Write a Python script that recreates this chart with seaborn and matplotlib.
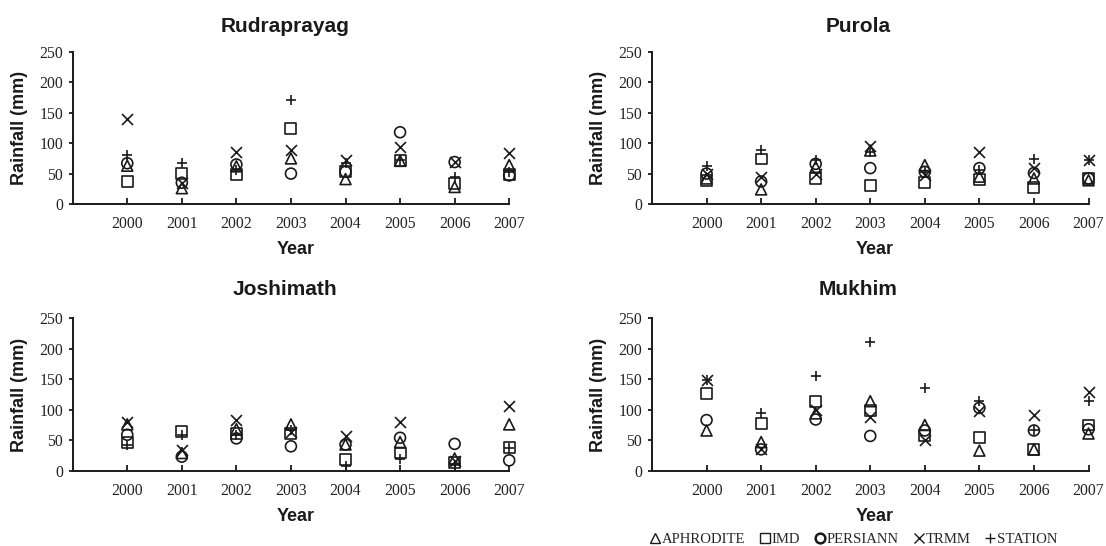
import numpy as np
import pandas as pd
import matplotlib
matplotlib.use("Agg")
import matplotlib.pyplot as plt
from matplotlib.lines import Line2D
import seaborn as sns

years = [2000, 2001, 2002, 2003, 2004, 2005, 2006, 2007]
products = ["APHRODITE", "IMD", "PERSIANN", "TRMM", "STATION"]
stations = ["Rudraprayag", "Purola", "Joshimath", "Mukhim"]

# Rudraprayag
rud_aphrodite = [63, 26, 62, 75, 41, 71, 28, 64]
rud_imd = [37, 50, 48, 124, 53, 71, 34, 49]
rud_persiann = [67, 35, 65, 50, 53, 118, 69, 47]
rud_trmm = [140, 35, 86, 89, 72, 94, 69, 84]
rud_station = [80, 68, 56, 171, 68, 73, 45, 53]

# Purola
pur_aphrodite = [42, 24, 61, 88, 64, 45, 42, 39]
pur_imd = [39, 74, 42, 31, 35, 40, 27, 42]
pur_persiann = [50, 37, 66, 59, 53, 59, 51, 42]
pur_trmm = [50, 45, 50, 96, 48, 86, 59, 72]
pur_station = [63, 89, 73, 86, 52, 56, 74, 72]

# Joshimath
jos_aphrodite = [76, 29, 68, 76, 43, 47, 20, 76]
jos_imd = [47, 65, 61, 61, 19, 29, 13, 38]
jos_persiann = [59, 23, 53, 40, 43, 54, 44, 17]
jos_trmm = [80, 34, 83, 64, 57, 80, 16, 106]
jos_station = [42, 58, 58, 66, 7, 20, 9, 38]

# Mukhim
muk_aphrodite = [66, 47, 94, 114, 75, 33, 35, 61]
muk_imd = [126, 77, 114, 99, 57, 54, 35, 75]
muk_persiann = [83, 35, 84, 57, 66, 103, 66, 68]
muk_trmm = [148, 36, 99, 88, 50, 98, 91, 129]
muk_station = [148, 94, 155, 211, 135, 115, 66, 115]

station_data = {
    "Rudraprayag": [rud_aphrodite, rud_imd, rud_persiann, rud_trmm, rud_station],
    "Purola": [pur_aphrodite, pur_imd, pur_persiann, pur_trmm, pur_station],
    "Joshimath": [jos_aphrodite, jos_imd, jos_persiann, jos_trmm, jos_station],
    "Mukhim": [muk_aphrodite, muk_imd, muk_persiann, muk_trmm, muk_station],
}

rows = []
for st in stations:
    for prod, vals in zip(products, station_data[st]):
        for y, v in zip(years, vals):
            rows.append({"station": st, "product": prod, "Year": y, "Rainfall": v})
df = pd.DataFrame(rows)

sns.set_style("ticks")
serif = "Liberation Serif"
sans = "Liberation Sans"
plt.rcParams["font.family"] = [sans, "DejaVu Sans"]

markers = {"APHRODITE": "^", "IMD": "s", "PERSIANN": "o", "TRMM": "x", "STATION": "+"}
filled = {"APHRODITE": True, "IMD": True, "PERSIANN": True, "TRMM": False, "STATION": False}

fig = plt.figure(figsize=(11.06, 5.46), dpi=100)
W, H = 1106, 546
ax_w = 436.5 / W
positions = {
    "Rudraprayag": (72.7 / W, 1 - 204 / H, ax_w, 152 / H),
    "Purola": (652 / W, 1 - 204 / H, ax_w, 152 / H),
    "Joshimath": (72.7 / W, 1 - 470.7 / H, ax_w, 152.4 / H),
    "Mukhim": (652 / W, 1 - 470.7 / H, ax_w, 152.4 / H),
}
title_x = {"Rudraprayag": 0.486, "Purola": 0.472, "Joshimath": 0.486, "Mukhim": 0.472}
title_pad = {"Rudraprayag": 14.5, "Purola": 14.5, "Joshimath": 16.5, "Mukhim": 16.5}

ink = "#1a1a1a"
for st in stations:
    ax = fig.add_axes(positions[st])
    sub = df[df["station"] == st]
    for prod in products:
        d = sub[sub["product"] == prod]
        if filled[prod]:
            sns.scatterplot(data=d, x="Year", y="Rainfall", marker=markers[prod], s=62,
                            facecolor="none", edgecolor=ink, linewidth=1.2, ax=ax,
                            zorder=3, clip_on=False)
        else:
            sns.scatterplot(data=d, x="Year", y="Rainfall", marker=markers[prod], s=62,
                            color=ink, linewidth=1.2, ax=ax, zorder=3, clip_on=False)
    ax.set_xlim(1999, 2007)
    ax.set_ylim(0, 250)
    ax.set_xticks(years)
    ax.set_xticklabels([str(y) for y in years], fontfamily=serif, fontsize=11.3, color="#222222")
    ax.set_yticks([0, 50, 100, 150, 200, 250])
    ax.set_yticklabels(["0", "50", "100", "150", "200", "250"], fontfamily=serif,
                       fontsize=11.3, color="#222222")
    ax.tick_params(axis="x", direction="in", length=4, width=1.3, pad=9, color=ink)
    ax.tick_params(axis="y", direction="out", length=3, width=1.3, pad=4, color=ink)
    for side in ["top", "right"]:
        ax.spines[side].set_visible(False)
    for side in ["left", "bottom"]:
        ax.spines[side].set_linewidth(1.4)
        ax.spines[side].set_color(ink)
    ax.set_xlabel("Year", fontsize=13, fontweight="bold", color=ink, labelpad=6, x=0.51)
    ax.set_ylabel("Rainfall (mm)", fontsize=13, fontweight="bold", color=ink, labelpad=8)
    ax.set_title(st, fontsize=15, fontweight="bold", color=ink, pad=title_pad[st], x=title_x[st])
    if ax.get_legend() is not None:
        ax.get_legend().remove()

handles = []
for prod in products:
    if filled[prod]:
        h = Line2D([], [], linestyle="none", marker=markers[prod], markersize=7,
                   markerfacecolor="none", markeredgecolor=ink,
                   markeredgewidth=1.8 if prod == "PERSIANN" else 1.0)
    else:
        h = Line2D([], [], linestyle="none", marker=markers[prod], markersize=7,
                   color=ink, markeredgewidth=1.0)
    handles.append(h)

fig.legend(handles, products, loc="center", bbox_to_anchor=(0.772, 0.0128), ncol=5,
           frameon=False, prop={"family": serif, "size": 10.6},
           handlelength=0.7, handletextpad=0.1, columnspacing=1.0, borderpad=0.1)

fig.savefig("out.png", dpi=100)
